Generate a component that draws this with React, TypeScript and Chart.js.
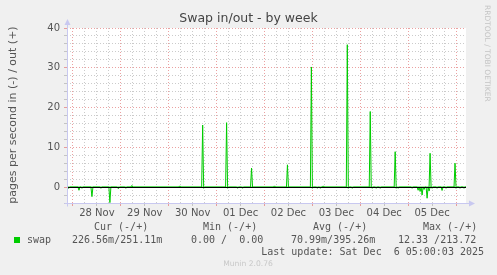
import { useEffect, useRef } from "react";
import { Chart, registerables } from "chart.js";

Chart.register(...registerables);

// Time axis: hours after 28 Nov 00:00 (30-minute samples)
const xStart = -3;
const xEnd = 197;
const sampleStep = 0.5;
const dayLabels = ["28 Nov", "29 Nov", "30 Nov", "01 Dec", "02 Dec", "03 Dec", "04 Dec", "05 Dec"];

// pages/s swapped out (+)
const outHours = [29.5, 53.5, 65, 77, 89.5, 101, 107.5, 119.5, 125.5, 137.5, 149, 161.5, 179, 191.5];
const outValues = [0.4, 0.3, 15.6, 16.2, 4.8, 0.3, 5.6, 30.2, 0.3, 35.8, 19, 8.9, 8.5, 6.0];

// pages/s swapped in (-)
const inHours = [-2, 3, 4.5, 9.5, 14, 18.5, 22.5, 23, 26.5, 65.5, 77.5, 82.5, 85, 120, 122.5, 124, 138, 140, 150, 152, 154, 162, 163, 170, 173, 174, 175, 176, 177.5, 178.5, 180, 182.5, 185, 187, 192, 194, 196];
const inValues = [0.3, 0.8, 0.3, 2.4, 0.3, 3.9, 0.3, 0.3, 0.3, 0.3, 0.3, 0.3, 0.3, 0.3, 0.3, 0.3, 0.3, 0.3, 0.3, 0.3, 0.3, 0.3, 0.3, 0.3, 0.8, 1.1, 2.0, 0.6, 2.8, 1.0, 0.3, 0.3, 0.85, 0.3, 0.3, 0.3, 0.3];

const yMin = -4;
const yMax = 40;

const legendHeaders = ["Cur (-/+)", "Min (-/+)", "Avg (-/+)", "Max (-/+)"];
const legendValues = ["226.56m/251.11m", "0.00 /  0.00", "70.99m/395.26m", "12.33 /213.72"];
const seriesName = "swap";
const lastUpdate = "Last update: Sat Dec  6 05:00:03 2025";

const GREEN = "#00cc00";
const RED_GRID = "rgba(225,110,110,0.65)";
const GRAY_GRID = "rgba(160,160,160,0.55)";
const AXIS = "#c8c8f0";

function buildSeries(hours: number[], values: number[], sign: number) {
  const pts: { x: number; y: number }[] = [];
  for (let h = xStart; h <= xEnd + 1e-9; h += sampleStep) {
    const idx = hours.findIndex((t) => Math.abs(t - h) < 1e-6);
    pts.push({ x: h, y: idx >= 0 ? sign * values[idx] : 0 });
  }
  return pts;
}

const decorPlugin = {
  id: "decor",
  beforeDraw(chart: any) {
    const { ctx, chartArea } = chart;
    ctx.save();
    ctx.fillStyle = "#ffffff";
    ctx.fillRect(chartArea.left, chartArea.top, chartArea.right - chartArea.left, chartArea.bottom - chartArea.top);
    ctx.restore();
  },
  afterDatasetsDraw(chart: any) {
    const { ctx, chartArea, scales } = chart;
    const y0 = Math.round(scales.y.getPixelForValue(0)) + 0.5;
    ctx.save();
    ctx.strokeStyle = "#000000";
    ctx.lineWidth = 1;
    ctx.beginPath();
    ctx.moveTo(chartArea.left, y0);
    ctx.lineTo(chartArea.right, y0);
    ctx.stroke();
    ctx.restore();
  },
  afterDraw(chart: any) {
    const { ctx, chartArea } = chart;
    const L = chartArea.left + 0.5;
    const B = chartArea.bottom + 0.5;
    ctx.save();
    // axes
    ctx.strokeStyle = AXIS;
    ctx.fillStyle = AXIS;
    ctx.lineWidth = 1;
    ctx.beginPath();
    ctx.moveTo(L, B + 3);
    ctx.lineTo(L, chartArea.top - 4);
    ctx.moveTo(L - 3, B);
    ctx.lineTo(chartArea.right + 4, B);
    ctx.stroke();
    ctx.beginPath();
    ctx.moveTo(L - 3, chartArea.top - 3);
    ctx.lineTo(L + 3, chartArea.top - 3);
    ctx.lineTo(L, chartArea.top - 9);
    ctx.closePath();
    ctx.fill();
    ctx.beginPath();
    ctx.moveTo(chartArea.right + 3, B - 3);
    ctx.lineTo(chartArea.right + 3, B + 3);
    ctx.lineTo(chartArea.right + 9, B);
    ctx.closePath();
    ctx.fill();

    // title
    ctx.fillStyle = "#444";
    ctx.font = "12.5px 'DejaVu Sans'";
    ctx.textAlign = "center";
    ctx.textBaseline = "middle";
    ctx.fillText("Swap in/out - by week", 248.5, 19);

    // y title
    ctx.save();
    ctx.translate(13, 115);
    ctx.rotate(-Math.PI / 2);
    ctx.font = "11px 'DejaVu Sans'";
    ctx.fillStyle = "#555";
    ctx.fillText("pages per second in (-) / out (+)", 0, 0);
    ctx.restore();

    // watermark
    ctx.save();
    ctx.translate(487, 5);
    ctx.rotate(Math.PI / 2);
    ctx.font = "7.5px 'DejaVu Sans'";
    ctx.fillStyle = "#c4c4c4";
    ctx.textAlign = "left";
    ctx.fillText("RRDTOOL / TOBI OETIKER", 0, 0);
    ctx.restore();

    // legend
    ctx.font = "10px 'DejaVu Sans Mono'";
    ctx.fillStyle = "#555";
    ctx.textAlign = "left";
    const headerX = [94, 203, 313, 423];
    legendHeaders.forEach((t, i) => ctx.fillText(t, headerX[i], 227));
    ctx.fillStyle = GREEN;
    ctx.fillRect(14, 237, 6, 6);
    ctx.fillStyle = "#555";
    ctx.fillText(seriesName, 27, 240);
    const valueX = [72, 191, 291, 398];
    legendValues.forEach((t, i) => ctx.fillText(t, valueX[i], 240));
    ctx.textAlign = "right";
    ctx.fillText(lastUpdate, 484, 252);

    ctx.font = "7.6px 'DejaVu Sans'";
    ctx.fillStyle = "#c8c8c8";
    ctx.textAlign = "center";
    ctx.fillText("Munin 2.0.76", 248, 264);
    ctx.restore();
  },
};

export default function App() {
  const ref = useRef<HTMLCanvasElement | null>(null);
  useEffect(() => {
    document.body.style.margin = "0";
    if (!ref.current) return;
    const chart = new Chart(ref.current, {
      type: "line",
      data: {
        datasets: [
          {
            label: "in",
            data: buildSeries(inHours, inValues, -1),
            borderColor: GREEN,
            borderWidth: 1,
            pointRadius: 0,
            tension: 0,
          },
          {
            label: "out",
            data: buildSeries(outHours, outValues, 1),
            borderColor: GREEN,
            borderWidth: 1,
            pointRadius: 0,
            tension: 0,
          },
        ],
      },
      options: {
        animation: false,
        responsive: false,
        parsing: false,
        layout: { padding: { top: 28, right: 31, left: 0, bottom: 0 } },
        plugins: { legend: { display: false }, title: { display: false }, tooltip: { enabled: false } },
        scales: {
          x: {
            type: "linear",
            min: xStart,
            max: xEnd,
            afterBuildTicks: (scale: any) => {
              const t: { value: number }[] = [];
              for (let h = 0; h <= 192; h += 6) t.push({ value: h });
              scale.ticks = t;
            },
            afterFit: (scale: any) => {
              scale.height = 72;
            },
            ticks: {
              autoSkip: false,
              maxRotation: 0,
              padding: 1,
              color: "#555",
              font: { family: "DejaVu Sans", size: 10 },
              callback: (v: any) => {
                const n = Number(v);
                return n % 24 === 12 ? dayLabels[(n - 12) / 24] : "";
              },
            },
            grid: {
              color: (c: any) => (c.tick && c.tick.value % 24 === 0 ? RED_GRID : GRAY_GRID),
              tickColor: (c: any) => {
                const v = c.tick ? c.tick.value : 0;
                if (v % 24 === 0) return RED_GRID;
                if (v % 12 === 0) return GRAY_GRID;
                return "rgba(0,0,0,0)";
              },
              tickLength: 3,
              lineWidth: 1,
            },
            border: { display: false, dash: [1, 2] },
          },
          y: {
            type: "linear",
            min: yMin,
            max: yMax,
            afterFit: (scale: any) => {
              scale.width = 67;
            },
            ticks: {
              stepSize: 2,
              autoSkip: false,
              padding: 4,
              color: "#555",
              font: { family: "DejaVu Sans", size: 10 },
              callback: (v: any) => (Number(v) % 10 === 0 ? String(v) : ""),
            },
            grid: {
              color: (c: any) => (c.tick && c.tick.value % 10 === 0 ? RED_GRID : GRAY_GRID),
              tickColor: (c: any) => (c.tick && c.tick.value % 10 === 0 ? RED_GRID : GRAY_GRID),
              tickLength: 3,
              lineWidth: 1,
            },
            border: { display: false, dash: [1, 2] },
          },
        },
      },
      plugins: [decorPlugin],
    });
    return () => chart.destroy();
  }, []);
  return (
    <div style={{ width: 497, height: 275, background: "#f0f0f0" }}>
      <canvas ref={ref} width={497} height={275} style={{ display: "block" }} />
    </div>
  );
}
